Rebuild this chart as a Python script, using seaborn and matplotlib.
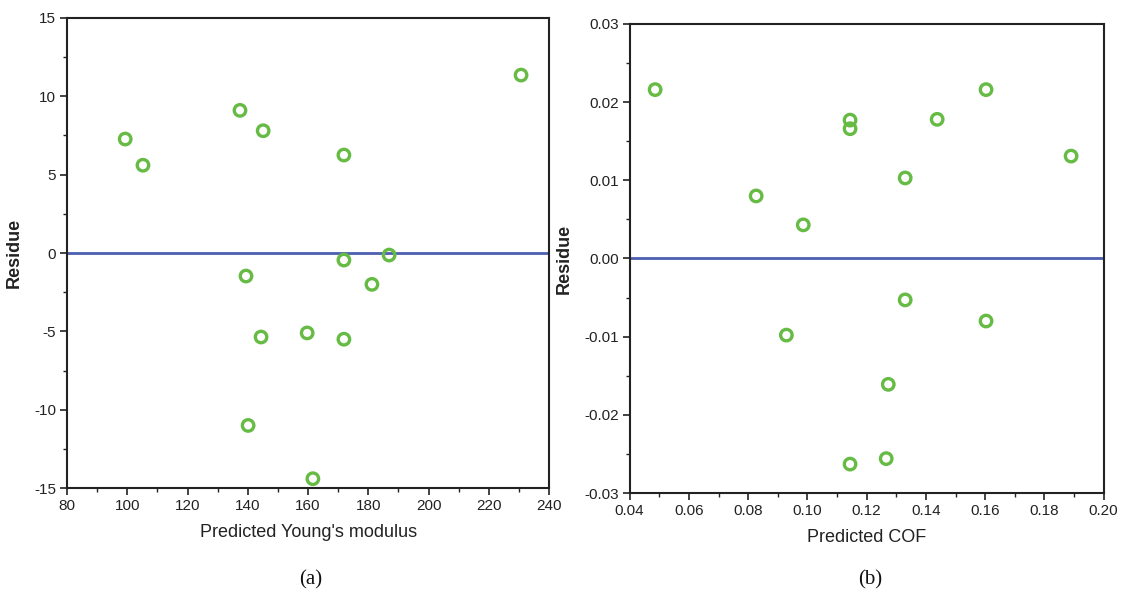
import numpy as np
import pandas as pd
import seaborn as sns
import matplotlib
matplotlib.use("Agg")
import matplotlib.pyplot as plt
from matplotlib.ticker import MultipleLocator, FormatStrFormatter

# Panel (a): Young's modulus residuals
ym_pred = [99.3, 105.2, 137.4, 145.1, 230.7, 171.9, 139.4, 171.9, 186.9, 181.2,
           144.4, 159.7, 171.9, 140.1, 161.6]
ym_res = [7.27, 5.6, 9.1, 7.8, 11.35, 6.25, -1.47, -0.45, -0.13, -2.0,
          -5.36, -5.1, -5.5, -11.0, -14.4]

# Panel (b): COF residuals
cof_pred = [0.0486, 0.0827, 0.0986, 0.1144, 0.1144, 0.1330, 0.1438, 0.1603, 0.1890,
            0.1330, 0.1603, 0.0929, 0.1273, 0.1144, 0.1266]
cof_res = [0.0216, 0.0080, 0.0043, 0.0177, 0.0166, 0.0103, 0.0178, 0.0216, 0.0131,
           -0.0053, -0.0080, -0.0098, -0.0161, -0.0263, -0.0256]

sns.set_theme(style="white")
plt.rcParams['font.family'] = ['Liberation Sans Narrow', 'Liberation Sans', 'DejaVu Sans']
plt.rcParams['axes.unicode_minus'] = False

GREEN = "#66bb44"
BLUE = "#4a5fb0"

fig = plt.figure(figsize=(11.27, 5.96), dpi=100)
ax1 = fig.add_axes([0.0595, 0.181, 0.4277, 0.789])
ax2 = fig.add_axes([0.5587, 0.1728, 0.4206, 0.787])

dfa = pd.DataFrame({"x": ym_pred, "y": ym_res})
dfb = pd.DataFrame({"x": cof_pred, "y": cof_res})

for ax, df in [(ax1, dfa), (ax2, dfb)]:
    ax.axhline(0, color=BLUE, lw=2.0, zorder=1)
    sns.scatterplot(data=df, x="x", y="y", ax=ax, marker="o", s=68,
                    facecolors="none", edgecolor=GREEN, linewidth=2.4, zorder=3)
    for sp in ax.spines.values():
        sp.set_visible(True)
        sp.set_color("#222222")
        sp.set_linewidth(1.5)
    ax.tick_params(axis="both", which="major", direction="out", length=5, width=1.2,
                   color="#222222", labelsize=11, labelcolor="#222222",
                   bottom=True, left=True, top=False, right=False, pad=3)
    ax.tick_params(axis="both", which="minor", direction="out", length=3, width=1.0,
                   color="#222222", bottom=True, left=True, top=False, right=False)

ax1.set_xlim(80, 240)
ax1.set_ylim(-15, 15)
ax1.xaxis.set_major_locator(MultipleLocator(20))
ax1.xaxis.set_minor_locator(MultipleLocator(10))
ax1.yaxis.set_major_locator(MultipleLocator(5))
ax1.yaxis.set_minor_locator(MultipleLocator(2.5))
ax1.set_xlabel("Predicted Young's modulus", fontsize=13, color="#222222", labelpad=8)
ax1.set_ylabel("Residue", fontsize=13, fontweight="bold", color="#222222", labelpad=8)

ax2.set_xlim(0.04, 0.20)
ax2.set_ylim(-0.03, 0.03)
ax2.xaxis.set_major_locator(MultipleLocator(0.02))
ax2.xaxis.set_minor_locator(MultipleLocator(0.01))
ax2.yaxis.set_major_locator(MultipleLocator(0.01))
ax2.yaxis.set_minor_locator(MultipleLocator(0.005))
ax2.xaxis.set_major_formatter(FormatStrFormatter("%.2f"))
ax2.yaxis.set_major_formatter(FormatStrFormatter("%.2f"))
ax2.set_xlabel("Predicted COF", fontsize=13, color="#222222", labelpad=8)
ax2.set_ylabel("Residue", fontsize=13, fontweight="bold", color="#222222", labelpad=8)

fig.text(311 / 1127, 1 - 580 / 596, "(a)", ha="center", va="center",
         fontsize=15, family=["Liberation Serif", "DejaVu Serif"], color="#111111")
fig.text(870 / 1127, 1 - 580 / 596, "(b)", ha="center", va="center",
         fontsize=15, family=["Liberation Serif", "DejaVu Serif"], color="#111111")

fig.savefig("out.png", dpi=100)
